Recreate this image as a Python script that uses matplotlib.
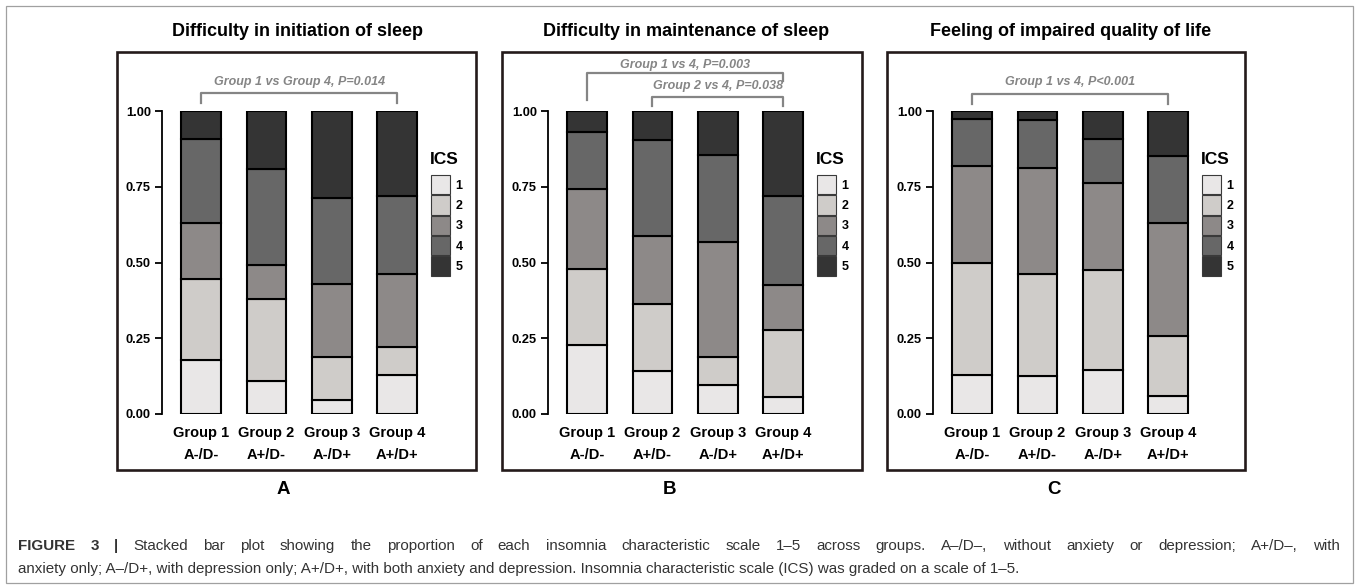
import matplotlib
matplotlib.use("Agg")
import matplotlib.pyplot as plt
from matplotlib.patches import Rectangle, Patch
from matplotlib.lines import Line2D

W, H = 1360, 588
DPI = 100

# ---------------- data ----------------
groups = ["Group 1", "Group 2", "Group 3", "Group 4"]
subgroups = ["A-/D-", "A+/D-", "A-/D+", "A+/D+"]
ics_levels = ["1", "2", "3", "4", "5"]
yticks = [0, 0.25, 0.5, 0.75, 1.0]
ytick_labels = ["0.00", "0.25", "0.50", "0.75", "1.00"]

# proportions: rows = ICS 1..5, columns = Group 1..4
initiation = [
    [0.177, 0.110, 0.047, 0.129],
    [0.269, 0.270, 0.142, 0.093],
    [0.186, 0.112, 0.240, 0.241],
    [0.275, 0.317, 0.284, 0.258],
    [0.093, 0.191, 0.287, 0.279],
]
maintenance = [
    [0.229, 0.141, 0.095, 0.055],
    [0.249, 0.223, 0.094, 0.223],
    [0.264, 0.222, 0.380, 0.147],
    [0.190, 0.317, 0.287, 0.295],
    [0.068, 0.097, 0.144, 0.280],
]
quality = [
    [0.128, 0.127, 0.144, 0.058],
    [0.369, 0.335, 0.332, 0.201],
    [0.323, 0.349, 0.286, 0.371],
    [0.155, 0.159, 0.145, 0.223],
    [0.025, 0.030, 0.093, 0.147],
]
panel_titles = ["Difficulty in initiation of sleep",
                "Difficulty in maintenance of sleep",
                "Feeling of impaired quality of life"]
panel_letters = ["A", "B", "C"]
comparisons_a = [(0, 3, "Group 1 vs Group 4, P=0.014")]
comparisons_b = [(0, 3, "Group 1 vs 4, P=0.003"), (1, 3, "Group 2 vs 4, P=0.038")]
comparisons_c = [(0, 3, "Group 1 vs 4, P<0.001")]

caption_bold = "FIGURE 3 |"
caption_line1 = ("Stacked bar plot showing the proportion of each insomnia characteristic "
                 "scale 1\u20135 across groups. A\u2013/D\u2013, without anxiety or depression; "
                 "A+/D\u2013, with")
caption_line2 = ("anxiety only; A\u2013/D+, with depression only; A+/D+, with both anxiety and "
                 "depression. Insomnia characteristic scale (ICS) was graded on a scale of 1\u20135.")

# ---------------- style ----------------
ics_colors = ["#e9e7e7", "#cfccc9", "#8d8988", "#676767", "#343434"]
FONT = ["Liberation Sans", "DejaVu Sans"]
plt.rcParams["font.family"] = FONT
frame_color = "#241a1a"
annot_color = "#858585"
cap_color = "#333333"
CAP_SIZE = 10.9


def fx(x):
    return x / W


def fy(y):
    return 1 - y / H


fig = plt.figure(figsize=(W / DPI, H / DPI), dpi=DPI)

# outer border of the figure
fig.add_artist(Rectangle((fx(6), fy(583)), fx(1353) - fx(6), fy(6) - fy(583),
                         transform=fig.transFigure, fill=False,
                         edgecolor="#a0a0a0", linewidth=0.9))

panels = [initiation, maintenance, quality]
comparisons = [comparisons_a, comparisons_b, comparisons_c]
# bracket layout per comparison: (line_y, left_bottom, right_bottom, text_y) in data units
bracket_layout = [
    [(1.059, 1.026, 1.026, 1.096)],
    [(1.125, 1.036, 1.100, 1.152), (1.046, 1.017, 1.017, 1.081)],
    [(1.057, 1.023, 1.023, 1.096)],
]
offsets = [0, 386, 771]
frame_lefts = [117, 502, 887]
frame_rights = [476, 862, 1245]
letter_x = [283, 669, 1054]
title_x = [298, 686, 1071]

xs = list(range(len(groups)))
for k, data in enumerate(panels):
    dx = offsets[k]
    ax = fig.add_axes([fx(162 + dx), fy(414), 274.3 / W, 303 / H])
    bottom = [0.0] * len(groups)
    for lvl, row in enumerate(data):
        ax.bar(xs, row, width=0.61, bottom=bottom, color=ics_colors[lvl],
               edgecolor="black", linewidth=1.5, label=ics_levels[lvl], zorder=2)
        bottom = [b + v for b, v in zip(bottom, row)]
    ax.set_xlim(-0.6, 3.6)
    ax.set_ylim(0, 1)
    for s in ["top", "right", "bottom"]:
        ax.spines[s].set_visible(False)
    ax.spines["left"].set_bounds(0, 1)
    ax.spines["left"].set_linewidth(1.3)
    ax.set_yticks(yticks)
    ax.set_yticklabels(ytick_labels, fontsize=9.3, fontweight="bold")
    ax.tick_params(axis="y", length=5, width=1.3, pad=3)
    ax.set_xticks(xs)
    ax.set_xticklabels([f"{g}\n{s}" for g, s in zip(groups, subgroups)],
                       fontsize=10.5, fontweight="bold", linespacing=1.75)
    ax.tick_params(axis="x", length=0, pad=8.5)
    ax.patch.set_visible(False)

    # significance brackets
    for (i, j, label), (ly, lb, rb, ty) in zip(comparisons[k], bracket_layout[k]):
        ax.add_line(Line2D([i, i, j, j], [lb, ly, ly, rb], color=annot_color,
                           linewidth=1.6, clip_on=False))
        ax.text((i + j) / 2, ty, label, ha="center", va="center", fontsize=9,
                fontweight="bold", style="italic", color=annot_color, clip_on=False)

    # legend
    handles = [Patch(facecolor=c, edgecolor="#3a3a3a", linewidth=0.8) for c in ics_colors]
    ax.legend(handles, ics_levels, loc="upper left",
              bbox_to_anchor=(fx(431 + dx), fy(175)), bbox_transform=fig.transFigure,
              frameon=False, borderpad=0, borderaxespad=0, handlelength=1.52,
              handleheight=2.0, labelspacing=0.08, handletextpad=0.45,
              prop={"weight": "bold", "size": 9})
    fig.text(fx(430 + dx), fy(159), "ICS", ha="left", va="center", fontsize=12.5,
             fontweight="bold")

    # panel frame
    fig.add_artist(Rectangle((fx(frame_lefts[k]), fy(470)),
                             fx(frame_rights[k]) - fx(frame_lefts[k]), fy(52) - fy(470),
                             transform=fig.transFigure, fill=False,
                             edgecolor=frame_color, linewidth=1.9))
    # title
    fig.text(fx(title_x[k]), fy(32), panel_titles[k], ha="center", va="center",
             fontsize=13, fontweight="bold")
    # panel letter
    fig.text(fx(letter_x[k]), fy(490), panel_letters[k], ha="center", va="center",
             fontsize=13.5, fontweight="bold")

# caption: line 1 justified between x=18 and x=1340, line 2 left aligned
fig.canvas.draw()
r = fig.canvas.get_renderer()
tokens = [(w, "bold") for w in caption_bold.split()] + \
         [(w, "normal") for w in caption_line1.split()]
objs = []
for w, wt in tokens:
    t = fig.text(0, fy(546), w, ha="left", va="center", fontsize=CAP_SIZE,
                 fontweight=wt, color=cap_color)
    objs.append(t)
widths = [t.get_window_extent(renderer=r).width for t in objs]
left_px, right_px = 18, 1340
gap = (right_px - left_px - sum(widths)) / (len(objs) - 1)
x = left_px
for t, wd in zip(objs, widths):
    t.set_x(fx(x))
    x += wd + gap
fig.text(fx(18), fy(569), caption_line2, ha="left", va="center", fontsize=CAP_SIZE,
         color=cap_color)

fig.savefig("out.png", dpi=DPI)
